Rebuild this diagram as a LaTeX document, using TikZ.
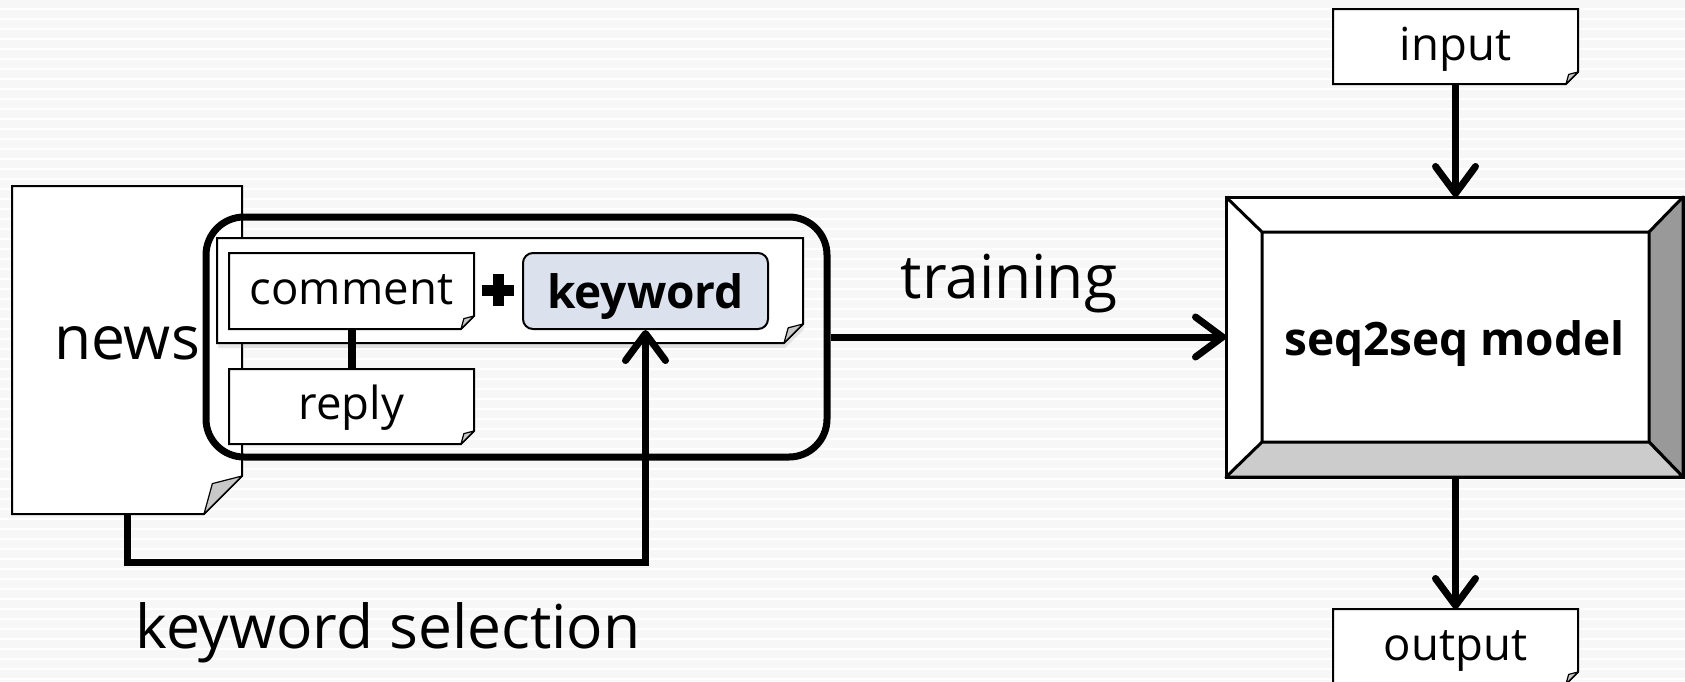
\documentclass[tikz,border=0pt]{standalone}
\usepackage{fontspec}
\setmainfont{Open Sans}
\usetikzlibrary{arrows.meta,shadows}
\pgfdeclarelayer{background}
\pgfsetlayers{background,main}

\definecolor{paper}{HTML}{F7F7F7}
\definecolor{keyblue}{HTML}{DCE1EE}
\definecolor{foldgray}{HTML}{C8C8C8}

\newcommand{\diaglarge}{\fontsize{60.5}{68}\selectfont}
\newcommand{\diagsmall}{\fontsize{45.5}{52}\selectfont}
\newcommand{\diagbold}{\fontsize{46}{53}\selectfont\bfseries}

\tikzset{
  docnode/.style={draw=none, inner sep=0pt, outer sep=0pt, font=\diagsmall,
    text height=26pt, text depth=0pt},
  docline/.style={draw=black, line width=2pt, fill=white},
  shadedline/.style={docline, drop shadow={opacity=0.18, shadow xshift=1pt, shadow yshift=-5pt}},
  foldline/.style={draw=black, line width=1.2pt, fill=foldgray, line join=round},
  flow/.style={line width=7pt, -{Straight Barb[length=27pt, width=40pt, round]}},
  textlabel/.style={font=\diaglarge, anchor=base, inner sep=0pt},
}

\begin{document}
\begin{tikzpicture}[x=1pt, y=-1pt]
\useasboundingbox (0,0) rectangle (1685,681);

% documents on the left
\node[docnode, minimum width=230pt, minimum height=328pt, font=\diaglarge, text height=18pt] (news) at (127,350) {news};
\node[docnode, minimum width=586pt, minimum height=105pt] (sample) at (510,290.5) {};
\node[docnode, minimum width=245pt, minimum height=76pt] (comment) at (351.5,291) {comment};
\node[docnode, minimum width=245pt, minimum height=75pt] (reply) at (351.5,406.5) {reply};
\node[draw, line width=2pt, fill=keyblue, rounded corners=10pt, minimum width=245pt, minimum height=76pt,
  inner sep=0pt, font=\diagbold, text height=34pt, text depth=0pt] (keyword) at (645.5,291) {keyword};
\coordinate (plus) at (498,290);
\draw[line width=11pt] ([xshift=-16pt]plus) -- ([xshift=16pt]plus) ([yshift=-16pt]plus) -- ([yshift=16pt]plus);
\draw[line width=8pt] (comment) -- (reply);

\node[draw, line width=7pt, rounded corners=38pt, minimum width=621pt, minimum height=240pt] (set) at (516.5,337) {};

% model on the right
\node[docnode, minimum width=245pt, minimum height=75pt, text height=27pt] (input) at (1455.5,46.5) {input};
\node[docnode, minimum width=245pt, minimum height=75pt, text height=27pt] (output) at (1455.5,646.5) {output};
\node[draw, line width=3pt, fill=white, minimum width=457pt, minimum height=280pt, inner sep=0pt, outer sep=0pt,
  font=\diagbold, text height=36pt, text depth=0pt] (model) at (1454.5,337) {seq2seq model};
\coordinate (inw) at ([xshift=36pt, yshift=-35pt]model.north west);
\coordinate (ine) at ([xshift=-34pt, yshift=-35pt]model.north east);
\coordinate (ise) at ([xshift=-34pt, yshift=35pt]model.south east);
\coordinate (isw) at ([xshift=36pt, yshift=35pt]model.south west);
\draw[line width=3pt, line join=round, fill=gray!80] (model.north east) -- (ine) -- (ise) -- (model.south east) -- cycle;
\draw[line width=3pt, line join=round, fill=gray!40] (model.south west) -- (isw) -- (ise) -- (model.south east) -- cycle;
\draw[line width=3pt, line join=round] (model.north west) -- (inw) -- (ine) (inw) -- (isw);

% labels
\node[textlabel] (train) at (1009,298) {training};
\node[textlabel] (kwsel) at (388,648) {keyword selection};

% connectors
\draw[flow] (set) -- (model);
\draw[flow] (input.south) -- (input.south |- model.north);
\draw[flow] (output.north |- model.south) -- (output.north);
\draw[flow] (news.south) -- ++(0,48) -| (keyword.south);

% paper outlines with folded corners
\begin{pgfonlayer}{background}
  \fill[paper] (0,0) rectangle (1685,681);
  \foreach \yy in {9,19,...,679}
    \draw[white, line width=2pt] (0,\yy) -- (1685,\yy);
  \foreach \n/\f/\s in {news/38/docline, sample/19/shadedline, comment/13/docline,
                        reply/13/docline, input/12/docline, output/12/docline} {
    \draw[\s] (\n.north west) -- (\n.north east) -- ([yshift=\f pt]\n.south east)
      -- ([xshift=-\f pt]\n.south east) -- (\n.south west) -- cycle;
    \draw[foldline] ([yshift=\f pt]\n.south east) -- ([xshift=-\f pt]\n.south east)
      -- ([xshift={-0.78*\f*1pt}, yshift={0.8*\f*1pt}]\n.south east) -- cycle;
  }
\end{pgfonlayer}
\end{tikzpicture}
\end{document}
